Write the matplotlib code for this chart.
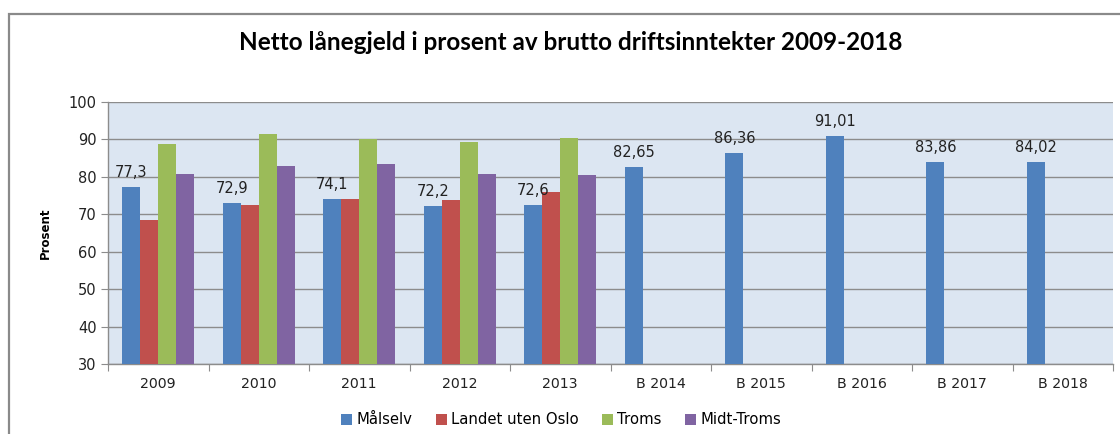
import matplotlib
matplotlib.use("Agg")
import matplotlib.pyplot as plt
import numpy as np
from matplotlib.patches import Rectangle

plt.rcParams["font.family"] = ["DejaVu Sans"]

categories = ["2009", "2010", "2011", "2012", "2013", "B 2014", "B 2015", "B 2016", "B 2017", "B 2018"]
series_names = ["Målselv", "Landet uten Oslo", "Troms", "Midt-Troms"]
malselv = [77.3, 72.9, 74.1, 72.2, 72.6, 82.65, 86.36, 91.01, 83.86, 84.02]
landet = [68.6, 72.6, 74.1, 73.7, 76.0, np.nan, np.nan, np.nan, np.nan, np.nan]
troms = [88.8, 91.5, 90.1, 89.4, 90.4, np.nan, np.nan, np.nan, np.nan, np.nan]
midt = [80.7, 82.9, 83.5, 80.8, 80.5, np.nan, np.nan, np.nan, np.nan, np.nan]
label_texts = ["77,3", "72,9", "74,1", "72,2", "72,6", "82,65", "86,36", "91,01", "83,86", "84,02"]
colors = ["#4F81BD", "#C0504D", "#9BBB59", "#8064A2"]

fig = plt.figure(figsize=(11.2, 4.34), dpi=100)
ax = fig.add_axes([108/1120, 1-364/434, (1113-108)/1120, (364-102)/434])
ax.set_facecolor("#DCE6F2")

x = np.arange(len(categories))
w = 0.179
all_series = [malselv, landet, troms, midt]
for k, (vals, name, c) in enumerate(zip(all_series, series_names, colors)):
    ax.bar(x + (k - 1.5) * w, vals, width=w, color=c, label=name,
           edgecolor="none", zorder=3)
    if k == 0:
        for xi, v, t in zip(x + (k - 1.5) * w, vals, label_texts):
            ax.annotate(t, (xi, v), xytext=(0, 5), textcoords="offset points",
                        ha="center", va="bottom", fontsize=10.5, color="#222222", zorder=5)

ax.set_ylim(30, 100)
ax.set_xlim(-0.5, len(categories) - 0.5)
ax.set_yticks(np.arange(30, 101, 10))
ax.yaxis.grid(True, color="#8C8C8C", linewidth=1, zorder=1)
ax.set_axisbelow(True)
ax.tick_params(axis="y", labelsize=10.5, length=5, color="#8C8C8C", labelcolor="#222222", pad=3)

ax.set_xticks(np.arange(-0.5, len(categories), 1.0))
ax.set_xticklabels([])
ax.set_xticks(x, minor=True)
ax.set_xticklabels(categories, minor=True)
ax.tick_params(axis="x", which="major", length=5, color="#8C8C8C")
ax.tick_params(axis="x", which="minor", length=0, labelsize=10.2, labelcolor="#222222", pad=9)

for s in ["top", "right"]:
    ax.spines[s].set_visible(False)
for s in ["left", "bottom"]:
    ax.spines[s].set_color("#8C8C8C")
    ax.spines[s].set_linewidth(1)

ax.set_ylabel("Prosent", fontsize=8.5, fontweight="bold")
ax.yaxis.set_label_coords(-56/1005, 0.5)

fig.text(571/1120, 1-42/434, "Netto lånegjeld i prosent av brutto driftsinntekter 2009-2018",
         ha="center", va="center", fontsize=17.5, fontweight="bold", family="Lato")

fig.legend(loc="center", bbox_to_anchor=(561/1120, 1-420/434), ncol=4, frameon=False,
           fontsize=10.7, handlelength=0.75, handleheight=0.75, handletextpad=0.25,
           columnspacing=1.6)

fig.patches.append(Rectangle((9/1120, -0.2), 1.2, 1-14/434+0.2, transform=fig.transFigure,
                             fill=False, edgecolor="#8A8A8A", linewidth=1.6))

fig.savefig("out.png", dpi=100)
